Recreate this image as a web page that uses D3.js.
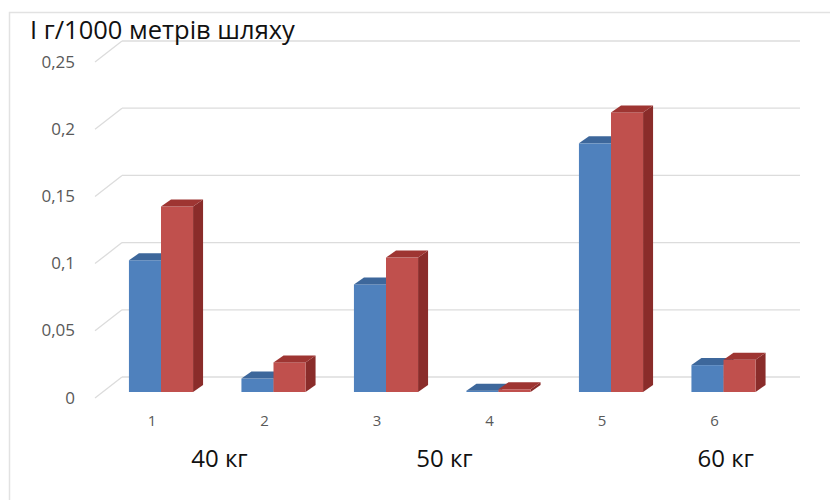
<!DOCTYPE html>
<html>
<head>
<meta charset="utf-8">
<script src="https://cdn.jsdelivr.net/npm/d3@7"></script>
<style>
  body { margin: 0; background: #fff; }
  svg { display: block; }
</style>
</head>
<body>
<div id="canvas"></div>
<script>
// DATA
const categories = ["1", "2", "3", "4", "5", "6"];
const seriesA = [0.098, 0.010, 0.080, 0.001, 0.185, 0.020];
const seriesB = [0.138, 0.022, 0.100, 0.002, 0.208, 0.024];
const yTicks = [0, 0.05, 0.1, 0.15, 0.2, 0.25];
const groupLabels = [
  { text: "40 кг", at: 0.6 },
  { text: "50 кг", at: 2.6 },
  { text: "60 кг", at: 5.1 }
];
const title = "І г/1000 метрів шляху";

// DIMENSIONS
const width = 830;
const height = 500;

// depth of the 3d box (back wall shift) and of each bar
const wallDx = 27, wallDy = 21;
const barDx = 10, barDy = 7;

// CANVAS
const canvas = d3.select("#canvas")
  .append("svg")
  .attr("width", width)
  .attr("height", height);

// frame
canvas.append("path")
  .attr("d", `M9.5,${height} V12.5 H${width}`)
  .style("fill", "none")
  .style("stroke", "#e2e2e2")
  .style("stroke-width", 1.5);

// SCALES
// front plane, where the bars stand
const y = d3.scaleLinear().domain([0, 0.25]).range([392, 56]);
// back wall
const yWall = v => y(v) - 15;

const x = d3.scaleBand()
  .domain(categories)
  .range([104.75, 779.75])
  .paddingInner(0.43)
  .paddingOuter(0.215);

const xSub = d3.scaleBand()
  .domain(["a", "b"])
  .range([0, x.bandwidth()]);

// GRID (back wall + diagonals on the side wall)
const grid = canvas.append("g");
const frontX = 95;

grid.selectAll("line.grid")
  .data(yTicks)
  .join("line")
  .attr("class", "grid")
  .attr("x1", frontX + wallDx)
  .attr("x2", 800)
  .attr("y1", d => yWall(d))
  .attr("y2", d => yWall(d))
  .style("stroke", "#dcdcdc")
  .style("stroke-width", 1.3);

grid.selectAll("line.diag")
  .data(yTicks)
  .join("line")
  .attr("class", "diag")
  .attr("x1", frontX)
  .attr("y1", d => yWall(d) + wallDy)
  .attr("x2", frontX + wallDx)
  .attr("y2", d => yWall(d))
  .style("stroke", "#dcdcdc")
  .style("stroke-width", 1.3);

// Y LABELS
const fmt = d => String(d).replace(".", ",");
canvas.selectAll("text.ytick")
  .data(yTicks)
  .join("text")
  .attr("class", "ytick")
  .attr("x", 75)
  .attr("y", d => yWall(d) + wallDy + 1)
  .attr("text-anchor", "end")
  .attr("dominant-baseline", "middle")
  .style("font-family", "'Open Sans', sans-serif")
  .style("font-size", "17px")
  .style("fill", "#595959")
  .text(fmt);

// BARS
const bars = [];
categories.forEach((c, i) => {
  bars.push({ cat: c, key: "a", value: seriesA[i], front: "#4f81bd", top: "#3d679b", side: "#2f5480" });
  bars.push({ cat: c, key: "b", value: seriesB[i], front: "#c0504d", top: "#9e3532", side: "#8a2c2a" });
});

const barG = canvas.append("g")
  .selectAll("g.bar")
  .data(bars)
  .join("g")
  .attr("class", "bar");

function geom(d) {
  const x0 = x(d.cat) + xSub(d.key);
  const w = xSub.bandwidth();
  const yt = y(d.value);
  const yb = y(0);
  return { x0, w, yt, yb };
}

// side face
barG.append("path")
  .attr("d", d => {
    const g = geom(d);
    return `M${g.x0 + g.w},${g.yt} L${g.x0 + g.w + barDx},${g.yt - barDy} L${g.x0 + g.w + barDx},${g.yb - barDy} L${g.x0 + g.w},${g.yb} Z`;
  })
  .style("fill", d => d.side);

// front face
barG.append("rect")
  .attr("x", d => geom(d).x0)
  .attr("y", d => geom(d).yt)
  .attr("width", xSub.bandwidth())
  .attr("height", d => Math.max(0.5, y(0) - y(d.value)))
  .style("fill", d => d.front);

// top face
barG.append("path")
  .attr("d", d => {
    const g = geom(d);
    return `M${g.x0},${g.yt} L${g.x0 + barDx},${g.yt - barDy} L${g.x0 + g.w + barDx},${g.yt - barDy} L${g.x0 + g.w},${g.yt} Z`;
  })
  .style("fill", d => d.top);

// CATEGORY LABELS
canvas.selectAll("text.xtick")
  .data(categories)
  .join("text")
  .attr("class", "xtick")
  .attr("x", d => x(d) + x.bandwidth() / 2 - 9)
  .attr("y", 422)
  .attr("text-anchor", "middle")
  .attr("dominant-baseline", "middle")
  .style("font-family", "'Open Sans', sans-serif")
  .style("font-size", "15px")
  .style("fill", "#595959")
  .text(d => d);

// GROUP LABELS (kg)
const step = x.step();
canvas.selectAll("text.group")
  .data(groupLabels)
  .join("text")
  .attr("class", "group")
  .attr("x", d => x(categories[0]) + x.bandwidth() / 2 - 9 + d.at * step)
  .attr("y", 461)
  .attr("text-anchor", "middle")
  .attr("dominant-baseline", "middle")
  .style("font-family", "'Open Sans', sans-serif")
  .style("font-size", "24px")
  .style("fill", "#111")
  .text(d => d.text);

// TITLE
canvas.append("text")
  .attr("x", 30)
  .attr("y", 32)
  .attr("dominant-baseline", "middle")
  .style("font-family", "'Open Sans', sans-serif")
  .style("font-size", "25.5px")
  .style("fill", "#111")
  .text(title);
</script>
</body>
</html>
